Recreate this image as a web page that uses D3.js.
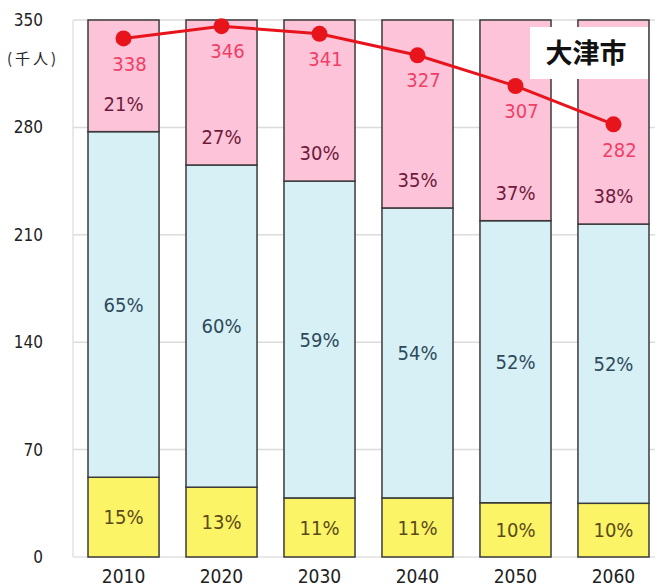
<!DOCTYPE html>
<html><head><meta charset="utf-8">
<script src="https://cdn.jsdelivr.net/npm/d3@7"></script>
<style>
html,body{margin:0;padding:0;background:#fff;}
svg{display:block;}
text{font-family:"Liberation Sans Narrow","DejaVu Sans Condensed","Liberation Sans",sans-serif;}
</style>
</head><body>
<svg id="c" width="659" height="586"></svg>
<script>
const years = ["2010","2020","2030","2040","2050","2060"];
const youngPct = [15,13,11,11,10,10];
const workingPct = [65,60,59,54,52,52];
const elderlyPct = [21,27,30,35,37,38];
const totals = [338,346,341,327,307,282];
const yTicks = [0,70,140,210,280,350];
const unitLabel = "(千人)";
const cityName = "大津市";

const svg = d3.select("#c");
const y = d3.scaleLinear().domain([0,350]).range([557,20]);
const yShare = d3.scaleLinear().domain([0,1]).range([557,20]);
const x = d3.scaleBand().domain(years).range([88,649]).paddingInner(0.275).paddingOuter(0);

// gridlines
svg.append("g").selectAll("line").data(yTicks.filter(d=>d>0)).join("line")
  .attr("x1",73).attr("x2",655).attr("y1",d=>y(d)).attr("y2",d=>y(d))
  .attr("stroke","#dcdcdc").attr("stroke-width",1.5);
svg.append("line").attr("x1",73).attr("x2",73).attr("y1",20).attr("y2",557)
  .attr("stroke","#e2e2e2").attr("stroke-width",1.5);
svg.append("line").attr("x1",73).attr("x2",655).attr("y1",557).attr("y2",557)
  .attr("stroke","#e2e2e2").attr("stroke-width",1.5);

// y axis labels
const yAxis = d3.axisLeft(y).tickValues(yTicks).tickSize(0).tickPadding(0);
const ga = svg.append("g").attr("transform","translate(43,0)").call(yAxis);
ga.select(".domain").remove();
ga.selectAll("text").attr("font-size",17).attr("fill","#222")
  .style("font-family",'"Liberation Sans Narrow","DejaVu Sans Condensed",sans-serif');
svg.append("text").attr("x",7).attr("y",64).attr("font-size",15).attr("fill","#222")
  .attr("letter-spacing",3)
  .style("font-family",'"Noto Sans CJK JP",sans-serif').text(unitLabel);

// stacked bars
const rows = years.map((yr,i)=>({year:yr, young:youngPct[i], working:workingPct[i], elderly:elderlyPct[i]}));
const keys = ["young","working","elderly"];
const stack = d3.stack().keys(keys).offset(d3.stackOffsetExpand);
const series = stack(rows);
const fills = {young:"#fbf466", working:"#d6f0f6", elderly:"#fdc3d8"};
const labelColors = {young:"#5a4a18", working:"#2e4a5a", elderly:"#6e1a3c"};

series.forEach(s=>{
  const g = svg.append("g");
  g.selectAll("rect").data(s).join("rect")
    .attr("x",d=>x(d.data.year)).attr("width",x.bandwidth())
    .attr("y",d=>yShare(d[1])).attr("height",d=>yShare(d[0])-yShare(d[1]))
    .attr("fill",fills[s.key]).attr("stroke","#3a3a3a").attr("stroke-width",1.5);
  g.selectAll("text").data(s).join("text")
    .attr("x",d=>x(d.data.year)+x.bandwidth()/2)
    .attr("y",d=> s.key==="elderly" ? yShare(d[0])-28 : (yShare(d[0])+yShare(d[1]))/2)
    .attr("dy","0.36em").attr("text-anchor","middle").attr("font-size",20)
    .attr("fill",labelColors[s.key]).text(d=>d.data[s.key]+"%");
});

// city name box
svg.append("rect").attr("x",530).attr("y",27).attr("width",118).attr("height",52).attr("fill","#fff");
svg.append("text").attr("x",586).attr("y",53).attr("dy","0.36em").attr("text-anchor","middle")
  .attr("font-size",27).attr("font-weight","bold").attr("fill","#111")
  .style("font-family",'"Noto Sans CJK JP",sans-serif').text(cityName);

// total line
const cx = d=>x(d.year)+x.bandwidth()/2;
const pts = years.map((yr,i)=>({year:yr,total:totals[i]}));
svg.append("path").datum(pts)
  .attr("d",d3.line().x(cx).y(d=>y(d.total)))
  .attr("fill","none").attr("stroke","#e8141c").attr("stroke-width",3);
svg.append("g").selectAll("circle").data(pts).join("circle")
  .attr("cx",cx).attr("cy",d=>y(d.total)).attr("r",8).attr("fill","#e8141c");
svg.append("g").selectAll("text").data(pts).join("text")
  .attr("x",d=>cx(d)+6).attr("y",d=>y(d.total)+25).attr("dy","0.36em")
  .attr("text-anchor","middle").attr("font-size",20).attr("fill","#ef3f66")
  .text(d=>d.total);

// x labels
svg.append("g").selectAll("text").data(years).join("text")
  .attr("x",d=>x(d)+x.bandwidth()/2).attr("y",576).attr("dy","0.36em")
  .attr("text-anchor","middle").attr("font-size",19).attr("fill","#222").text(d=>d);
</script>
</body></html>
